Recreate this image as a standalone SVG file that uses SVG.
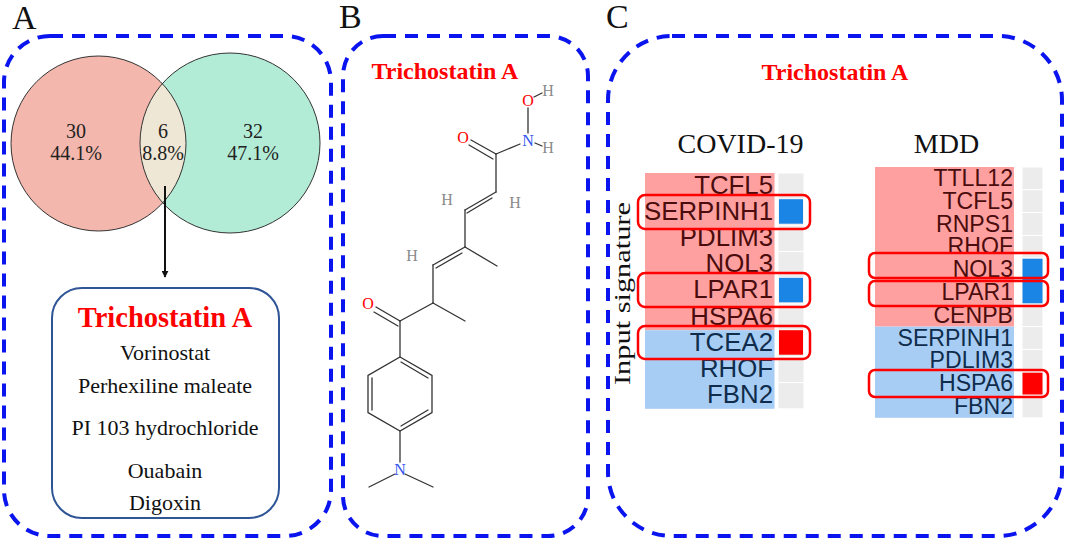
<svg xmlns="http://www.w3.org/2000/svg" width="1065" height="540" viewBox="0 0 1065 540">
<defs>
<style>
.panel{fill:none;stroke:#0a14ee;stroke-width:4;stroke-dasharray:13 9}
.lbl{font-family:"Liberation Serif","Times New Roman",serif;font-size:34px;fill:#111}
.serif{font-family:"Liberation Serif","Times New Roman",serif;fill:#111}
.title{font-family:"Liberation Serif","Times New Roman",serif;font-weight:bold;fill:#ff0000;text-anchor:middle}
.vn{font-family:"Liberation Serif","Times New Roman",serif;font-size:20px;fill:#222;text-anchor:middle}
.drug{font-family:"Liberation Serif","Times New Roman",serif;font-size:22px;fill:#111;text-anchor:middle}
.bond{stroke:#333;stroke-width:1.3;fill:none;stroke-linecap:round}
.atom{font-family:"Liberation Serif","Times New Roman",serif;font-size:16px;text-anchor:middle}
.o{fill:#ff0000}.n{fill:#3355ee}.h{fill:#8a8a8a}
.gene{font-family:"Liberation Sans",Arial,sans-serif;text-anchor:end}
.up{fill:#4a0c0c}.dn{fill:#0f2c4c}
.gcell{fill:#ececec;stroke:#ffffff;stroke-width:1}
.hl{fill:none;stroke:#ff0000;stroke-width:2.5}
</style>
<marker id="arr" viewBox="0 0 10 10" refX="9" refY="5" markerWidth="7" markerHeight="7" markerUnits="userSpaceOnUse" orient="auto">
<path d="M0,0 L10,5 L0,10 z" fill="#111"/>
</marker>
<clipPath id="leftClip"><circle cx="98.5" cy="143.5" r="87.5"/></clipPath>
</defs>
<rect width="1065" height="540" fill="#ffffff"/>

<g id="panelA">
<text class="lbl" x="12" y="29">A</text>
<rect class="panel" x="4" y="36" width="327" height="500" rx="46"/>
<g id="venn">
<circle cx="98.5" cy="143.5" r="87.5" fill="#f4b7ad"/>
<circle cx="230" cy="143" r="90" fill="#b2ecd7"/>
<circle cx="230" cy="143" r="90" fill="#efe7d5" clip-path="url(#leftClip)"/>
<circle cx="98.5" cy="143.5" r="87.5" fill="none" stroke="#333" stroke-width="1"/>
<circle cx="230" cy="143" r="90" fill="none" stroke="#333" stroke-width="1"/>
<text class="vn" x="76" y="138">30</text>
<text class="vn" x="76" y="160">44.1%</text>
<text class="vn" x="163" y="138">6</text>
<text class="vn" x="163" y="160">8.8%</text>
<text class="vn" x="253" y="138">32</text>
<text class="vn" x="253" y="160">47.1%</text>
</g>
<g id="drugBox">
<rect x="52" y="288" width="227" height="230" rx="30" fill="#ffffff" stroke="#2f5597" stroke-width="2"/>
<text class="title" x="165" y="327" font-size="28.5">Trichostatin A</text>
<text class="drug" x="165" y="360">Vorinostat</text>
<text class="drug" x="165" y="393">Perhexiline maleate</text>
<text class="drug" x="165" y="435">PI 103 hydrochloride</text>
<text class="drug" x="165" y="478">Ouabain</text>
<text class="drug" x="165" y="510">Digoxin</text>
</g>
</g>

<g id="connectors">
<line x1="165" y1="186" x2="165" y2="277" stroke="#111" stroke-width="2" marker-end="url(#arr)"/>
</g>

<g id="panelB">
<text class="lbl" x="339" y="28">B</text>
<rect class="panel" x="343" y="36" width="245" height="500" rx="40"/>
<text class="title" x="445" y="79" font-size="24">Trichostatin A</text>
<g id="molecule">
<line class="bond" x1="528" y1="108" x2="528" y2="133"/>
<line class="bond" x1="534" y1="97" x2="542" y2="93"/>
<line class="bond" x1="535" y1="143" x2="542" y2="146"/>
<line class="bond" x1="496" y1="154" x2="520" y2="144"/>
<line class="bond" x1="496" y1="154" x2="471" y2="140"/>
<line class="bond" x1="493" y1="159" x2="469" y2="145"/>
<line class="bond" x1="496" y1="154" x2="496" y2="192"/>
<line class="bond" x1="496" y1="192" x2="465" y2="210"/>
<line class="bond" x1="492" y1="198" x2="467" y2="213"/>
<line class="bond" x1="465" y1="210" x2="465" y2="247"/>
<line class="bond" x1="465" y1="247" x2="497" y2="266"/>
<line class="bond" x1="465" y1="247" x2="433" y2="265"/>
<line class="bond" x1="462" y1="253" x2="436" y2="268"/>
<line class="bond" x1="433" y1="265" x2="433" y2="303"/>
<line class="bond" x1="433" y1="303" x2="465" y2="321"/>
<line class="bond" x1="433" y1="303" x2="400" y2="321"/>
<line class="bond" x1="400" y1="321" x2="376" y2="307"/>
<line class="bond" x1="398" y1="326" x2="374" y2="312"/>
<line class="bond" x1="400" y1="321" x2="400" y2="357"/>
<polygon class="bond" points="400,357 432,375.5 432,412.5 400,431 368,412.5 368,375.5"/>
<line class="bond" x1="401" y1="362" x2="428" y2="378"/>
<line class="bond" x1="372" y1="378" x2="372" y2="410"/>
<line class="bond" x1="401" y1="426" x2="428" y2="410"/>
<line class="bond" x1="400" y1="431" x2="400" y2="462"/>
<line class="bond" x1="395" y1="474" x2="369" y2="487"/>
<line class="bond" x1="405" y1="474" x2="433" y2="487"/>
<text class="atom o" x="528" y="106">O</text>
<text class="atom h" x="548" y="96">H</text>
<text class="atom n" x="528" y="146">N</text>
<text class="atom h" x="548" y="153">H</text>
<text class="atom o" x="463" y="143">O</text>
<text class="atom h" x="447" y="205">H</text>
<text class="atom h" x="515" y="208">H</text>
<text class="atom h" x="412" y="261">H</text>
<text class="atom o" x="368" y="309">O</text>
<text class="atom n" x="400" y="475">N</text>
</g>
</g>

<g id="panelC">
<text class="lbl" x="606" y="28">C</text>
<rect class="panel" x="608" y="36" width="454" height="500" rx="64"/>
<text class="title" x="835" y="80" font-size="24">Trichostatin A</text>
<text class="serif" x="740.5" y="153" font-size="28" text-anchor="middle">COVID-19</text>
<text class="serif" x="946.5" y="153" font-size="28" text-anchor="middle">MDD</text>
<text class="serif" x="0" y="0" font-size="24" text-anchor="middle" textLength="183" lengthAdjust="spacingAndGlyphs" transform="translate(630,293.5) rotate(-90)">Input signature</text>

<g id="covidHeatmap">
<rect x="645" y="173" width="129.5" height="157.2" fill="#ffa0a0"/>
<rect x="645" y="330.2" width="129.5" height="78.6" fill="#a8cdf4"/>
<g>
<rect class="gcell" x="778" y="173" width="26" height="26.2"/>
<rect class="gcell" x="778" y="199.2" width="26" height="26.2"/>
<rect class="gcell" x="778" y="225.4" width="26" height="26.2"/>
<rect class="gcell" x="778" y="251.6" width="26" height="26.2"/>
<rect class="gcell" x="778" y="277.8" width="26" height="26.2"/>
<rect class="gcell" x="778" y="304" width="26" height="26.2"/>
<rect class="gcell" x="778" y="330.2" width="26" height="26.2"/>
<rect class="gcell" x="778" y="356.4" width="26" height="26.2"/>
<rect class="gcell" x="778" y="382.6" width="26" height="26.2"/>
</g>
<rect x="779" y="199.2" width="24" height="24.5" fill="#1b85e6"/>
<rect x="779" y="277.8" width="24" height="24.5" fill="#1b85e6"/>
<rect x="779" y="330.2" width="24" height="24.5" fill="#ff0000"/>
<g class="gene" font-size="25.8">
<text class="up" x="773" y="193.5">TCFL5</text>
<text class="up" x="773" y="219.7">SERPINH1</text>
<text class="up" x="773" y="245.9">PDLIM3</text>
<text class="up" x="773" y="272.1">NOL3</text>
<text class="up" x="773" y="298.3">LPAR1</text>
<text class="up" x="773" y="324.5">HSPA6</text>
<text class="dn" x="773" y="350.7">TCEA2</text>
<text class="dn" x="773" y="376.9">RHOF</text>
<text class="dn" x="773" y="403.1">FBN2</text>
</g>
<rect class="hl" x="638" y="195" width="172" height="34" rx="7"/>
<rect class="hl" x="638" y="273" width="172" height="34" rx="7"/>
<rect class="hl" x="638" y="326" width="172" height="33" rx="7"/>
</g>

<g id="mddHeatmap">
<rect x="875" y="167" width="139" height="159.6" fill="#ffa0a0"/>
<rect x="875" y="326.6" width="139" height="91.2" fill="#a8cdf4"/>
<g>
<rect class="gcell" x="1022" y="167" width="21" height="22.8"/>
<rect class="gcell" x="1022" y="189.8" width="21" height="22.8"/>
<rect class="gcell" x="1022" y="212.6" width="21" height="22.8"/>
<rect class="gcell" x="1022" y="235.4" width="21" height="22.8"/>
<rect class="gcell" x="1022" y="258.2" width="21" height="22.8"/>
<rect class="gcell" x="1022" y="281" width="21" height="22.8"/>
<rect class="gcell" x="1022" y="303.8" width="21" height="22.8"/>
<rect class="gcell" x="1022" y="326.6" width="21" height="22.8"/>
<rect class="gcell" x="1022" y="349.4" width="21" height="22.8"/>
<rect class="gcell" x="1022" y="372.2" width="21" height="22.8"/>
<rect class="gcell" x="1022" y="395" width="21" height="22.8"/>
</g>
<rect x="1022.5" y="258.7" width="20" height="21.8" fill="#1b85e6"/>
<rect x="1022.5" y="281.5" width="20" height="21.8" fill="#1b85e6"/>
<rect x="1022.5" y="372.7" width="20" height="21.8" fill="#ff0000"/>
<g class="gene" font-size="23.1">
<text class="up" x="1013" y="186">TTLL12</text>
<text class="up" x="1013" y="208.8">TCFL5</text>
<text class="up" x="1013" y="231.6">RNPS1</text>
<text class="up" x="1013" y="254.4">RHOF</text>
<text class="up" x="1013" y="277.2">NOL3</text>
<text class="up" x="1013" y="300">LPAR1</text>
<text class="up" x="1013" y="322.8">CENPB</text>
<text class="dn" x="1013" y="345.6">SERPINH1</text>
<text class="dn" x="1013" y="368.4">PDLIM3</text>
<text class="dn" x="1013" y="391.2">HSPA6</text>
<text class="dn" x="1013" y="414">FBN2</text>
</g>
<rect class="hl" x="869" y="253" width="179" height="25" rx="6"/>
<rect class="hl" x="869" y="281" width="179" height="25" rx="6"/>
<rect class="hl" x="869" y="370" width="179" height="27" rx="6"/>
</g>
</g>
</svg>
